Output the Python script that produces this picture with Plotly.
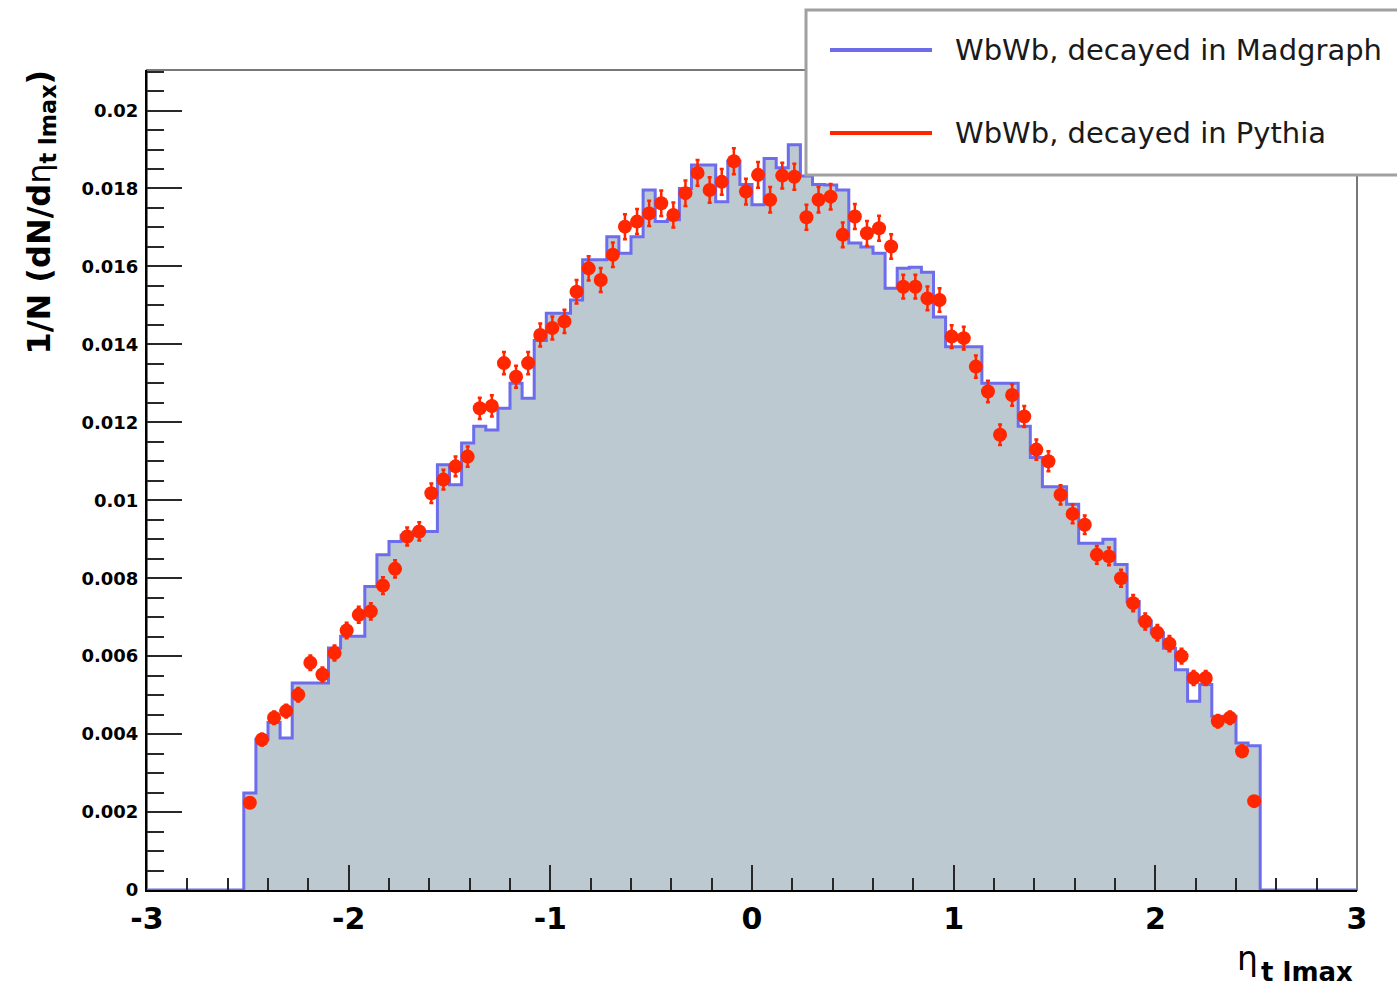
import numpy as np
import plotly.graph_objects as go

# ---------------- data ----------------
# histogram: 100 bins of width 0.06 from -3 to 3; only the central 84 bins are filled
x_min, x_max, n_bins = -3.0, 3.0, 100
n_empty = 8  # empty bins on each side

madgraph = [
    0.00249, 0.00386, 0.00430, 0.00390, 0.00531, 0.00531, 0.00531, 0.00621, 0.00651, 0.00651,
    0.00779, 0.00860, 0.00894, 0.00910, 0.00920, 0.00920, 0.01091, 0.01040, 0.01147, 0.01190,
    0.01180, 0.01236, 0.01300, 0.01262, 0.01410, 0.01480, 0.01480, 0.01514, 0.01617, 0.01617,
    0.01676, 0.01634, 0.01676, 0.01796, 0.01715, 0.01720, 0.01800, 0.01860, 0.01860, 0.01766,
    0.01870, 0.01810, 0.01758, 0.01877, 0.01853, 0.01912, 0.01832, 0.01810, 0.01809, 0.01796,
    0.01660, 0.01650, 0.01634, 0.01544, 0.01595, 0.01598, 0.01585, 0.01470, 0.01394, 0.01394,
    0.01394, 0.01300, 0.01300, 0.01300, 0.01190, 0.01110, 0.01035, 0.01035, 0.00990, 0.00890,
    0.00890, 0.00900, 0.00835, 0.00740, 0.00690, 0.00660, 0.00620, 0.00565, 0.00484, 0.00527,
    0.00446, 0.00446, 0.00377, 0.00370,
]

pythia = [
    0.00224, 0.00386, 0.00442, 0.00459, 0.00501, 0.00583, 0.00553, 0.00608, 0.00666, 0.00706,
    0.00715, 0.00781, 0.00824, 0.00907, 0.00920, 0.01018, 0.01053, 0.01087, 0.01112, 0.01236,
    0.01242, 0.01352, 0.01317, 0.01352, 0.01424, 0.01442, 0.01459, 0.01535, 0.01595, 0.01565,
    0.01630, 0.01702, 0.01715, 0.01736, 0.01762, 0.01732, 0.01788, 0.01840, 0.01796, 0.01817,
    0.01870, 0.01792, 0.01835, 0.01771, 0.01833, 0.01830, 0.01726, 0.01771, 0.01779, 0.01681,
    0.01728, 0.01685, 0.01698, 0.01651, 0.01548, 0.01548, 0.01518, 0.01514, 0.01420, 0.01416,
    0.01343, 0.01279, 0.01168, 0.01270, 0.01215, 0.01130, 0.01100, 0.01014, 0.00965, 0.00937,
    0.00860, 0.00856, 0.00800, 0.00736, 0.00689, 0.00660, 0.00632, 0.00600, 0.00544, 0.00544,
    0.00433, 0.00442, 0.00356, 0.00228,
]
# statistical error scale of the normalised histogram (error ~ k*sqrt(content))
err_scale = 0.00245

x_tick_vals = [-3, -2, -1, 0, 1, 2, 3]
x_tick_text = ["-3", "-2", "-1", "0", "1", "2", "3"]
y_tick_vals = [0, 0.002, 0.004, 0.006, 0.008, 0.01, 0.012, 0.014, 0.016, 0.018, 0.02]
y_tick_text = ["0", "0.002", "0.004", "0.006", "0.008", "0.01", "0.012", "0.014", "0.016", "0.018", "0.02"]

legend_labels = ["WbWb, decayed in Madgraph", "WbWb, decayed in Pythia"]
y_title = "<b>1/N (dN/d</b>η<sub><b>t lmax</b></sub><b>)</b>"
x_title_main = "η"
x_title_sub = "<b>t lmax</b>"

# ---------------- styles ----------------
BLUE = "rgb(108,108,236)"
FILL = "rgb(189,201,209)"
RED = "rgb(255,38,0)"
W, H = 1397, 992
L, R, T, B = 147, 40, 70, 102
y_range = [0, 0.02104]

edges = np.linspace(x_min, x_max, n_bins + 1)
centers = 0.5 * (edges[:-1] + edges[1:])
zeros = np.zeros(n_empty)
blue_full = np.concatenate([zeros, np.array(madgraph), zeros])
red_vals = np.array(pythia)
red_x = centers[n_empty:n_bins - n_empty]
red_err = err_scale * np.sqrt(red_vals)

x_step = np.append(edges[:-1], edges[-1])
y_step = np.append(blue_full, blue_full[-1])

fig = go.Figure()
fig.add_trace(go.Scatter(
    x=x_step, y=y_step, mode="lines",
    line=dict(shape="hv", color=BLUE, width=3),
    fill="tozeroy", fillcolor=FILL,
    showlegend=False, hoverinfo="skip",
))
fig.add_trace(go.Scatter(
    x=red_x, y=red_vals, mode="markers",
    marker=dict(color=RED, size=14, line=dict(width=0)),
    error_y=dict(type="data", array=red_err, visible=True, color=RED, thickness=2.5, width=2),
    showlegend=False,
))


def px_x(p):
    return (p - L) / (W - L - R)


def px_y(p):
    return (H - B - p) / (H - T - B)


shapes = [
    # grey frame (top / right)
    dict(type="rect", xref="paper", yref="paper", x0=0, x1=1, y0=0, y1=1,
         line=dict(color="rgb(120,120,120)", width=2), layer="below"),
    # legend box
    dict(type="rect", xref="paper", yref="paper",
         x0=px_x(806), x1=px_x(1402), y0=px_y(175), y1=px_y(10),
         line=dict(color="rgb(160,160,160)", width=3), fillcolor="white", layer="above"),
    dict(type="line", xref="paper", yref="paper",
         x0=px_x(830), x1=px_x(932), y0=px_y(50), y1=px_y(50),
         line=dict(color=BLUE, width=4), layer="above"),
    dict(type="line", xref="paper", yref="paper",
         x0=px_x(830), x1=px_x(932), y0=px_y(133), y1=px_y(133),
         line=dict(color=RED, width=4), layer="above"),
]

annotations = [
    dict(text=legend_labels[0], xref="paper", yref="paper", x=px_x(953), y=px_y(50),
         xanchor="left", yanchor="middle", showarrow=False,
         font=dict(family="DejaVu Sans", size=29, color="#1a1a1a")),
    dict(text=legend_labels[1], xref="paper", yref="paper", x=px_x(953), y=px_y(133),
         xanchor="left", yanchor="middle", showarrow=False,
         font=dict(family="DejaVu Sans", size=29, color="#1a1a1a")),
    dict(text=y_title, xref="paper", yref="paper", x=px_x(40), y=px_y(68),
         xanchor="center", yanchor="top", textangle=-90, showarrow=False,
         font=dict(family="DejaVu Sans", size=32, color="black")),
    dict(text=x_title_main, xref="paper", yref="paper", x=px_x(1247), y=px_y(958),
         xanchor="center", yanchor="middle", showarrow=False,
         font=dict(family="DejaVu Sans", size=33, color="black")),
    dict(text=x_title_sub, xref="paper", yref="paper", x=px_x(1259), y=px_y(972),
         xanchor="left", yanchor="middle", showarrow=False,
         font=dict(family="DejaVu Sans", size=26, color="black")),
]

fig.update_layout(
    width=W, height=H,
    margin=dict(l=L, r=R, t=T, b=B, pad=0),
    paper_bgcolor="white", plot_bgcolor="white",
    shapes=shapes, annotations=annotations,
    showlegend=False,
    xaxis=dict(
        range=[x_min, x_max], showgrid=False, zeroline=False,
        showline=True, linecolor="black", linewidth=2,
        ticks="inside", ticklen=25, tickwidth=2, tickcolor="rgb(40,40,40)",
        tickvals=x_tick_vals, ticktext=x_tick_text,
        tickfont=dict(family="DejaVu Sans", size=30, color="black", weight="bold"),
        minor=dict(ticks="inside", ticklen=12, tickwidth=2, tickcolor="rgb(40,40,40)", dtick=0.2, tick0=-3),
        ticklabelstandoff=1,
    ),
    yaxis=dict(
        range=y_range, showgrid=False, zeroline=False,
        showline=True, linecolor="black", linewidth=2,
        ticks="inside", ticklen=35, tickwidth=2, tickcolor="rgb(40,40,40)",
        tickvals=y_tick_vals, ticktext=y_tick_text,
        tickfont=dict(family="DejaVu Sans", size=18, color="black", weight="bold"),
        minor=dict(ticks="inside", ticklen=17, tickwidth=2, tickcolor="rgb(40,40,40)", dtick=0.0005, tick0=0),
        ticklabelstandoff=3,
    ),
)

fig.write_html("out.html")
